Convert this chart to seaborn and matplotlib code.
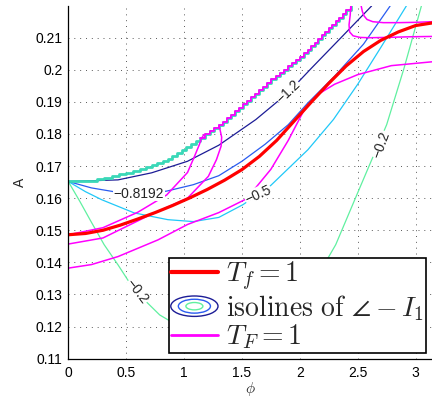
import matplotlib
matplotlib.use("Agg")
import matplotlib.pyplot as plt
import seaborn as sns
from matplotlib.lines import Line2D
from matplotlib.patches import Ellipse
from matplotlib.legend_handler import HandlerBase

# --- data (phi, A) ---
red_phi = [0, 0.15, 0.3, 0.45, 0.6, 0.75, 0.9, 1.05, 1.2, 1.35, 1.5, 1.65, 1.8, 1.95, 2.1, 2.25,
           2.4, 2.55, 2.7, 2.85, 3.0, 3.1416]
red_A = [0.1486, 0.1490, 0.1500, 0.1516, 0.1535, 0.1555, 0.1577, 0.1601, 0.1627, 0.1656, 0.1689,
         0.1730, 0.1780, 0.1840, 0.1900, 0.1958, 0.2012, 0.2057, 0.2092, 0.2118, 0.2138, 0.2146]

# staircase boundary (step corners)
stair_phi = [0.0, 0.245, 0.31, 0.375, 0.44, 0.50, 0.56, 0.62, 0.67, 0.72, 0.77, 0.82, 0.86, 0.90,
             0.94, 0.98, 1.02, 1.06, 1.10, 1.14, 1.18, 1.22, 1.26, 1.30, 1.335, 1.37, 1.405, 1.44,
             1.475, 1.51, 1.545, 1.58, 1.615, 1.65, 1.685, 1.72, 1.755, 1.79, 1.825, 1.86, 1.895,
             1.93, 1.965, 2.00, 2.035, 2.07, 2.10, 2.13, 2.16, 2.19, 2.22, 2.25, 2.28, 2.31, 2.34,
             2.37, 2.40, 2.44]
stair_A = [0.1652, 0.1659, 0.1664, 0.1669, 0.1674, 0.1679, 0.1685, 0.1691, 0.1697, 0.1703, 0.1709,
           0.1716, 0.1723, 0.1731, 0.1740, 0.1749, 0.1758, 0.1769, 0.1779, 0.1789, 0.1799, 0.1809,
           0.1818, 0.1827, 0.1838, 0.1849, 0.1860, 0.1871, 0.1882, 0.1893, 0.1904, 0.1915, 0.1926,
           0.1937, 0.1948, 0.1959, 0.1970, 0.1981, 0.1991, 0.2001, 0.2011, 0.2021, 0.2031, 0.2041,
           0.2052, 0.2063, 0.2074, 0.2085, 0.2096, 0.2107, 0.2118, 0.2129, 0.2140, 0.2151, 0.2162,
           0.2173, 0.2185, 0.2199]

# T_F = 1 branches (magenta)
ma_phi = [0, 0.3, 0.6, 0.85, 1.03, 1.09, 1.13, 1.15, 1.17]
ma_A = [0.1486, 0.1508, 0.1556, 0.1610, 0.1680, 0.1730, 0.1765, 0.1785, 0.1798]
mb_phi = [0, 0.3, 0.69, 1.03, 1.21, 1.28, 1.32, 1.325, 1.31, 1.30]
mb_A = [0.1457, 0.1476, 0.1545, 0.1600, 0.1668, 0.1720, 0.1762, 0.1790, 0.1815, 0.1827]
mc_phi = [0, 0.2, 0.43, 0.775, 1.03, 1.3, 1.54, 1.75, 1.9, 2.03, 2.15, 2.3, 2.5, 2.79, 3.1416]
mc_A = [0.1382, 0.1393, 0.1418, 0.1470, 0.1518, 0.1555, 0.1598, 0.1690, 0.1780, 0.1870, 0.1922,
        0.1955, 0.1985, 0.2013, 0.2025]
mt1_phi = [2.44, 2.435, 2.425, 2.43, 2.46, 2.52, 2.6, 2.75, 2.95, 3.1416]
mt1_A = [0.2199, 0.2170, 0.2140, 0.2118, 0.2106, 0.2101, 0.2100, 0.2101, 0.2103, 0.2104]
mt2_phi = [2.53, 2.54, 2.555, 2.58, 2.63, 2.72, 2.85, 3.0, 3.1416]
mt2_A = [0.2199, 0.2182, 0.2168, 0.2157, 0.2150, 0.2147, 0.2147, 0.2148, 0.2150]

# isolines of angle - I1
iso_colors = ["#1c1c96", "#2a5cf0", "#20c8f8", "#60f0a0"]
navy_phi = [0, 0.43, 0.72, 1.03, 1.3, 1.62, 1.9, 2.1, 2.35, 2.62]
navy_A = [0.1652, 0.1657, 0.1679, 0.1715, 0.1765, 0.1845, 0.1929, 0.2005, 0.2098, 0.2199]
blue_phi = [0, 0.2, 0.43, 0.62, 0.85, 1.08, 1.3, 1.5, 1.7, 1.9, 2.07, 2.3, 2.55, 2.78]
blue_A = [0.1652, 0.1632, 0.1618, 0.1612, 0.1622, 0.1642, 0.1670, 0.1715, 0.1768, 0.1829, 0.1897,
          0.1980, 0.2080, 0.2199]
cyan_phi = [0, 0.15, 0.29, 0.57, 0.86, 1.08, 1.3, 1.51, 1.75, 2.07, 2.29, 2.5, 2.7, 2.92]
cyan_A = [0.1652, 0.1620, 0.1595, 0.1554, 0.1533, 0.1527, 0.1540, 0.1580, 0.1640, 0.1751, 0.1845,
          0.1955, 0.2070, 0.2199]
green_phi = [0, 0.1, 0.2, 0.31, 0.43, 0.57, 0.79, 1.1, 1.5, 1.9, 2.185, 2.31, 2.5, 2.75, 2.9, 3.05]
green_A = [0.1652, 0.1590, 0.1525, 0.1455, 0.1392, 0.1314, 0.1236, 0.1170, 0.1150, 0.1240, 0.1377,
           0.1455, 0.1617, 0.1829, 0.2005, 0.2199]

# inline contour labels: text, phi, A, rotation
clabel_text = ["-1.2", "-0.8192", "-0.5", "-0.2", "-0.2"]
clabel_phi = [1.90, 0.61, 1.64, 2.70, 0.594]
clabel_A = [0.1932, 0.1613, 0.1612, 0.1767, 0.1308]
clabel_rot = [44, 0, 24, 70, -52]

xticks = [0, 0.5, 1, 1.5, 2, 2.5, 3]
xticklabels = ["0", "0.5", "1", "1.5", "2", "2.5", "3"]
yticks = [0.11, 0.12, 0.13, 0.14, 0.15, 0.16, 0.17, 0.18, 0.19, 0.20, 0.21]
yticklabels = ["0.11", "0.12", "0.13", "0.14", "0.15", "0.16", "0.17", "0.18", "0.19", "0.2", "0.21"]

sns.set_style("white")
plt.rcParams["font.family"] = ["Liberation Sans", "DejaVu Sans"]
plt.rcParams["mathtext.fontset"] = "cm"

fig = plt.figure(figsize=(4.32, 3.98), dpi=100)
ax = fig.add_axes([0.158, 0.099, 0.842, 0.886])

line_kw = dict(ax=ax, sort=False, estimator=None, legend=False)

# isolines
sns.lineplot(x=green_phi, y=green_A, color=iso_colors[3], lw=0.9, **line_kw)
sns.lineplot(x=cyan_phi, y=cyan_A, color=iso_colors[2], lw=0.9, **line_kw)
sns.lineplot(x=blue_phi, y=blue_A, color=iso_colors[1], lw=0.9, **line_kw)
sns.lineplot(x=navy_phi, y=navy_A, color=iso_colors[0], lw=0.9, **line_kw)

# staircase: teal underneath, magenta over the upper part
sns.lineplot(x=stair_phi, y=stair_A, color="#3ad8b8", lw=2.0, drawstyle="steps-post", **line_kw)
i0 = stair_phi.index(1.14)
sns.lineplot(x=stair_phi[i0:], y=stair_A[i0:], color="#ff00ff", lw=1.3, drawstyle="steps-post", **line_kw)

# T_F = 1 branches
for xs, ys in [(ma_phi, ma_A), (mb_phi, mb_A), (mc_phi, mc_A), (mt1_phi, mt1_A), (mt2_phi, mt2_A)]:
    sns.lineplot(x=xs, y=ys, color="#ff00ff", lw=1.1, **line_kw)

# T_f = 1
sns.lineplot(x=red_phi, y=red_A, color="#ff0000", lw=2.3, **line_kw)

for t, px, py, r in zip(clabel_text, clabel_phi, clabel_A, clabel_rot):
    ax.text(px, py, t.replace("-", "\u2212"), rotation=r, ha="center", va="center", fontsize=10,
            rotation_mode="anchor",
            bbox=dict(facecolor="white", edgecolor="none", pad=0.3))

ax.set_xlim(0, 3.1416)
ax.set_ylim(0.11, 0.2199)
ax.set_xticks(xticks)
ax.set_xticklabels(xticklabels)
ax.set_yticks(yticks)
ax.set_yticklabels(yticklabels)
ax.tick_params(direction="in", length=4, width=0.8, labelsize=10, colors="black")
ax.tick_params(axis="y", pad=4)
ax.tick_params(axis="x", pad=5)
ax.grid(True, color="0.35", linestyle=(0, (1, 5)), lw=0.7)
for s in ["top", "right"]:
    ax.spines[s].set_visible(False)
for s in ["left", "bottom"]:
    ax.spines[s].set_color("black")
    ax.spines[s].set_linewidth(0.9)
ax.set_xlabel(r"$\phi$", fontsize=11, labelpad=0)
ax.set_ylabel("A", fontsize=10, labelpad=6)


class EllipseHandler(HandlerBase):
    def create_artists(self, legend, orig_handle, xdescent, ydescent, width, height, fontsize, trans):
        cx = 0.5 * width - xdescent
        cy = 0.5 * height - ydescent
        arts = []
        for sc, col in zip([1.0, 0.68, 0.36], iso_colors[:2] + [iso_colors[3]]):
            e = Ellipse((cx, cy), width * sc, height * 1.05 * sc, fill=False, edgecolor=col,
                        lw=1.0, transform=trans)
            arts.append(e)
        return arts


h_red = Line2D([], [], color="#ff0000", lw=3)
h_iso = Ellipse((0, 0), 1, 1)
h_mag = Line2D([], [], color="#ff00ff", lw=2)
leg = ax.legend([h_red, h_iso, h_mag],
                [r"$T_f = 1$", r"$\mathrm{isolines\ of}\ \angle - I_1$", r"$T_F = 1$"],
                handler_map={Ellipse: EllipseHandler()},
                loc="lower right", bbox_to_anchor=(0.986, 0.113), bbox_transform=fig.transFigure,
                fontsize=20, frameon=True, fancybox=False, framealpha=1, edgecolor="black",
                handlelength=1.7, handletextpad=0.3, labelspacing=0.0, borderpad=0.06,
                borderaxespad=0)
leg.get_frame().set_linewidth(1.2)

fig.savefig("out.png", dpi=100)
